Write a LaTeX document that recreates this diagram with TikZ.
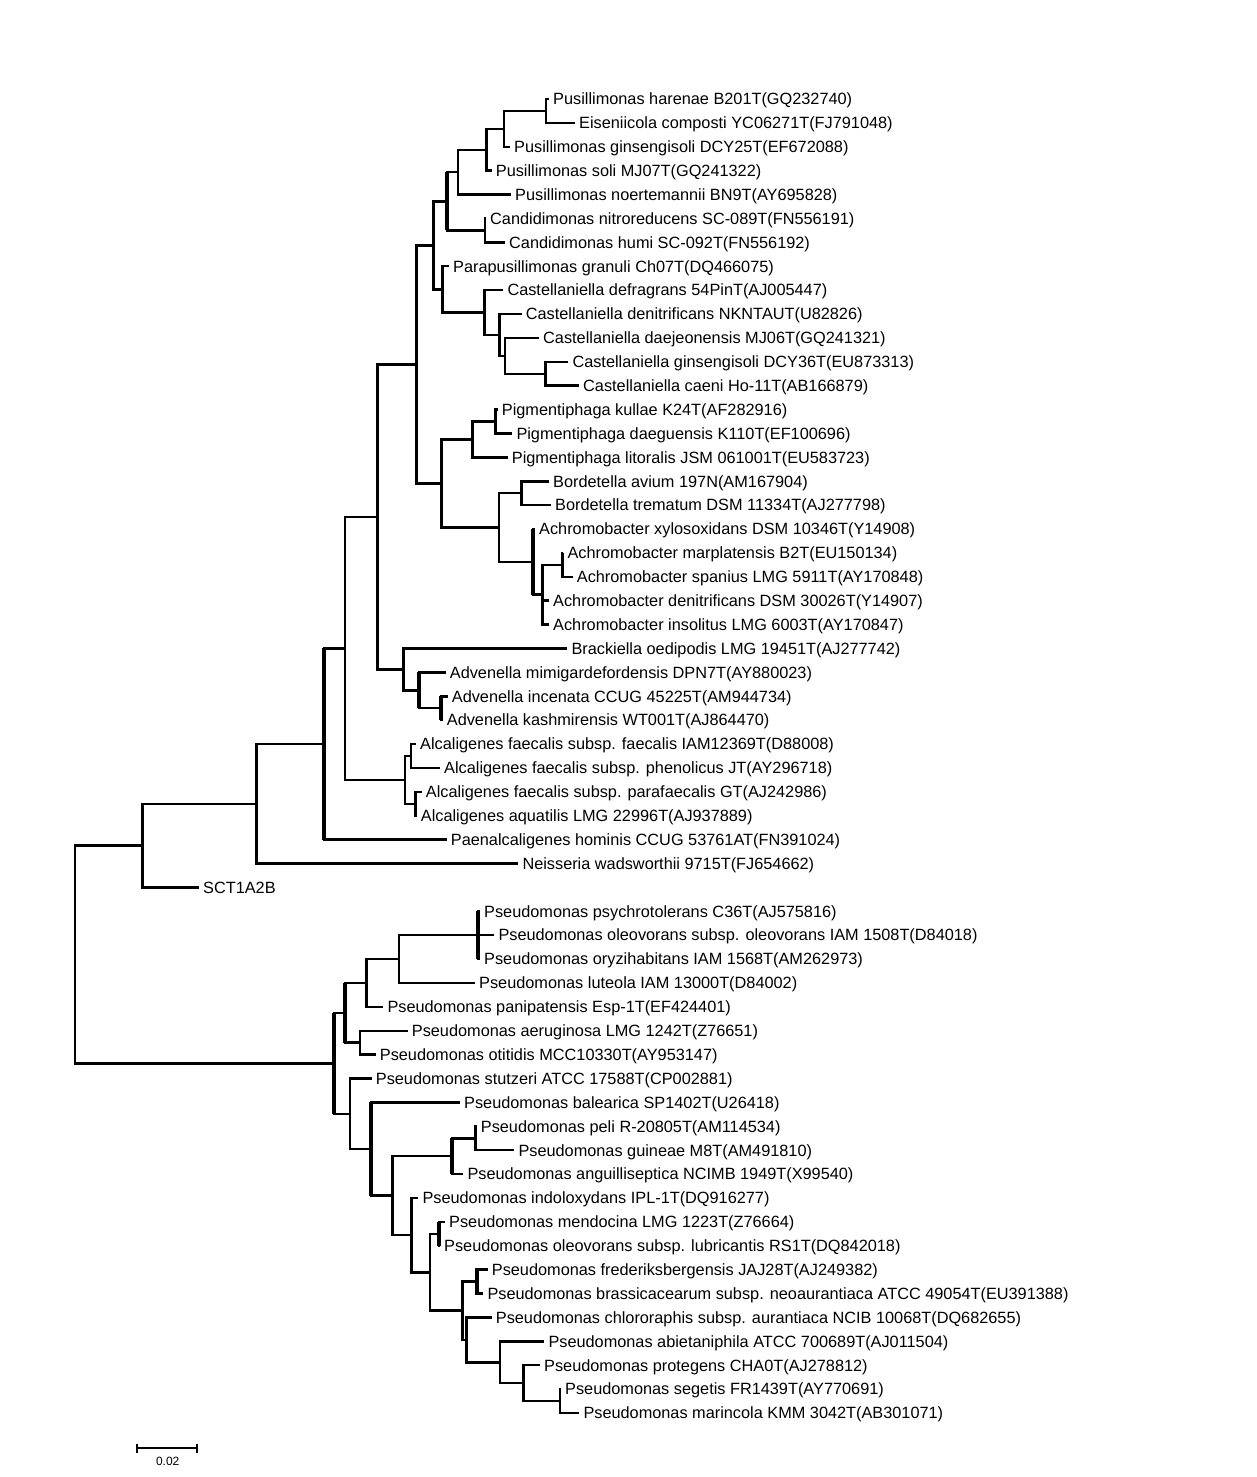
\documentclass[tikz,border=0pt]{standalone}
\usepackage{fontspec}
\setmainfont{Liberation Sans}
\newcommand\leaffont{\fontsize{16.3}{18}\selectfont}
\newcommand\barfont{\fontsize{12}{14}\selectfont}
\begin{document}
\begin{tikzpicture}[x=1pt,y=-1pt,
  br/.style={draw=black,line width=2.5pt},
  vthick/.style={draw=black,line width=4pt},
  leaf/.style={anchor=west,inner xsep=4pt,inner ysep=0pt,text height=11.6pt,text depth=0pt,font=\leaffont}]
\useasboundingbox (0,0) rectangle (1256,1477);
% ---------- leaves ----------
\node[leaf] (l1) at (549,99) {Pusillimonas harenae B201T(GQ232740)};
\node[leaf] (l2) at (575,122.89) {Eiseniicola composti YC06271T(FJ791048)};
\node[leaf] (l3) at (510,146.78) {Pusillimonas ginsengisoli DCY25T(EF672088)};
\node[leaf] (l4) at (491.7,170.67) {Pusillimonas soli MJ07T(GQ241322)};
\node[leaf] (l5) at (511,194.56) {Pusillimonas noertemannii BN9T(AY695828)};
\node[leaf] (l6) at (486,218.45) {Candidimonas nitroreducens SC-089T(FN556191)};
\node[leaf] (l7) at (505,242.35) {Candidimonas humi SC-092T(FN556192)};
\node[leaf] (l8) at (449,266.24) {Parapusillimonas granuli Ch07T(DQ466075)};
\node[leaf] (l9) at (503.3,290.13) {Castellaniella defragrans 54PinT(AJ005447)};
\node[leaf] (l10) at (521.7,314.02) {Castellaniella denitrificans NKNTAUT(U82826)};
\node[leaf] (l11) at (539,337.91) {Castellaniella daejeonensis MJ06T(GQ241321)};
\node[leaf] (l12) at (568.3,361.80) {Castellaniella ginsengisoli DCY36T(EU873313)};
\node[leaf] (l13) at (579,385.69) {Castellaniella caeni Ho-11T(AB166879)};
\node[leaf] (l14) at (497.7,409.58) {Pigmentiphaga kullae K24T(AF282916)};
\node[leaf] (l15) at (512.3,433.47) {Pigmentiphaga daeguensis K110T(EF100696)};
\node[leaf] (l16) at (507.7,457.36) {Pigmentiphaga litoralis JSM 061001T(EU583723)};
\node[leaf] (l17) at (549,481.25) {Bordetella avium 197N(AM167904)};
\node[leaf] (l18) at (551,505.15) {Bordetella trematum DSM 11334T(AJ277798)};
\node[leaf] (l19) at (535,529.04) {Achromobacter xylosoxidans DSM 10346T(Y14908)};
\node[leaf] (l20) at (563.3,552.93) {Achromobacter marplatensis B2T(EU150134)};
\node[leaf] (l21) at (572.7,576.82) {Achromobacter spanius LMG 5911T(AY170848)};
\node[leaf] (l22) at (549,600.71) {Achromobacter denitrificans DSM 30026T(Y14907)};
\node[leaf] (l23) at (549,624.60) {Achromobacter insolitus LMG 6003T(AY170847)};
\node[leaf] (l24) at (567.3,648.49) {Brackiella oedipodis LMG 19451T(AJ277742)};
\node[leaf] (l25) at (445.7,672.38) {Advenella mimigardefordensis DPN7T(AY880023)};
\node[leaf] (l26) at (447.7,696.27) {Advenella incenata CCUG 45225T(AM944734)};
\node[leaf] (l27) at (442.7,720.16) {Advenella kashmirensis WT001T(AJ864470)};
\node[leaf] (l28) at (416,744.05) {Alcaligenes faecalis subsp. faecalis IAM12369T(D88008)};
\node[leaf] (l29) at (440,767.95) {Alcaligenes faecalis subsp. phenolicus JT(AY296718)};
\node[leaf] (l30) at (421.7,791.84) {Alcaligenes faecalis subsp. parafaecalis GT(AJ242986)};
\node[leaf] (l31) at (416.7,815.73) {Alcaligenes aquatilis LMG 22996T(AJ937889)};
\node[leaf] (l32) at (446.7,839.62) {Paenalcaligenes hominis CCUG 53761AT(FN391024)};
\node[leaf] (l33) at (518.3,863.51) {Neisseria wadsworthii 9715T(FJ654662)};
\node[leaf] (l34) at (199,887.40) {SCT1A2B};
\node[leaf] (l35) at (480,911.29) {Pseudomonas psychrotolerans C36T(AJ575816)};
\node[leaf] (l36) at (494.3,935.18) {Pseudomonas oleovorans subsp. oleovorans IAM 1508T(D84018)};
\node[leaf] (l37) at (480,959.07) {Pseudomonas oryzihabitans IAM 1568T(AM262973)};
\node[leaf] (l38) at (475,982.96) {Pseudomonas luteola IAM 13000T(D84002)};
\node[leaf] (l39) at (383.3,1006.85) {Pseudomonas panipatensis Esp-1T(EF424401)};
\node[leaf] (l40) at (407.7,1030.75) {Pseudomonas aeruginosa LMG 1242T(Z76651)};
\node[leaf] (l41) at (375.7,1054.64) {Pseudomonas otitidis MCC10330T(AY953147)};
\node[leaf] (l42) at (371.7,1078.53) {Pseudomonas stutzeri ATCC 17588T(CP002881)};
\node[leaf] (l43) at (460,1102.42) {Pseudomonas balearica SP1402T(U26418)};
\node[leaf] (l44) at (476.7,1126.31) {Pseudomonas peli R-20805T(AM114534)};
\node[leaf] (l45) at (514.3,1150.20) {Pseudomonas guineae M8T(AM491810)};
\node[leaf] (l46) at (463.3,1174.09) {Pseudomonas anguilliseptica NCIMB 1949T(X99540)};
\node[leaf] (l47) at (418.3,1197.98) {Pseudomonas indoloxydans IPL-1T(DQ916277)};
\node[leaf] (l48) at (445,1221.87) {Pseudomonas mendocina LMG 1223T(Z76664)};
\node[leaf] (l49) at (440,1245.76) {Pseudomonas oleovorans subsp. lubricantis RS1T(DQ842018)};
\node[leaf] (l50) at (487.7,1269.65) {Pseudomonas frederiksbergensis JAJ28T(AJ249382)};
\node[leaf] (l51) at (483.3,1293.55) {Pseudomonas brassicacearum subsp. neoaurantiaca ATCC 49054T(EU391388)};
\node[leaf] (l52) at (491.7,1317.44) {Pseudomonas chlororaphis subsp. aurantiaca NCIB 10068T(DQ682655)};
\node[leaf] (l53) at (544.3,1341.33) {Pseudomonas abietaniphila ATCC 700689T(AJ011504)};
\node[leaf] (l54) at (540,1365.22) {Pseudomonas protegens CHA0T(AJ278812)};
\node[leaf] (l55) at (561,1389.11) {Pseudomonas segetis FR1439T(AY770691)};
\node[leaf] (l56) at (579.3,1413.00) {Pseudomonas marincola KMM 3042T(AB301071)};
% ---------- internal nodes ----------
\coordinate (A) at (546,110.95);
\coordinate (B) at (504,128.86);
\coordinate (C) at (486.5,149.77);
\coordinate (D) at (458,172.16);
\coordinate (E) at (485,230.40);
\coordinate (F) at (447,201.28);
\coordinate (L) at (545.7,373.75);
\coordinate (K) at (505,355.83);
\coordinate (J) at (499.3,334.92);
\coordinate (I) at (484.3,312.53);
\coordinate (H) at (442.7,289.38);
\coordinate (G) at (433.3,245.33);
\coordinate (P1) at (495.7,421.53);
\coordinate (P2) at (472.7,439.44);
\coordinate (Bo) at (521.7,493.20);
\coordinate (Ac3) at (562.3,564.88);
\coordinate (Ac2) at (542.3,594.74);
\coordinate (Ac) at (533.3,561.89);
\coordinate (BA) at (499,527.55);
\coordinate (PB) at (441.7,483.49);
\coordinate (Q) at (416.7,364.41);
\coordinate (Adv2) at (441,708.22);
\coordinate (Adv1) at (419,690.30);
\coordinate (Br) at (403.3,669.40);
\coordinate (R) at (377.7,516.90);
\coordinate (Al1) at (411,756.00);
\coordinate (Al2) at (415.7,803.78);
\coordinate (Al) at (405,779.89);
\coordinate (S) at (345,648.40);
\coordinate (T) at (324.3,744.01);
\coordinate (U) at (256.7,803.76);
\coordinate (V) at (142.7,845.58);
\coordinate (Ps1) at (478.3,935.18);
\coordinate (Ps2) at (399,959.07);
\coordinate (Ps3) at (366.7,982.96);
\coordinate (Ps4) at (360,1042.70);
\coordinate (Ps5) at (345,1012.83);
\coordinate (O4) at (560,1401.06);
\coordinate (O3) at (523.3,1383.14);
\coordinate (O2) at (500,1362.24);
\coordinate (O) at (466.7,1339.84);
\coordinate (Fb) at (476.7,1281.60);
\coordinate (N) at (462.7,1310.72);
\coordinate (Men) at (439.3,1233.82);
\coordinate (M) at (430,1272.27);
\coordinate (ZZ) at (411.7,1235.13);
\coordinate (Pel1) at (475.7,1138.26);
\coordinate (Pel) at (452.3,1156.18);
\coordinate (Z) at (392.7,1195.66);
\coordinate (Y) at (371,1149.04);
\coordinate (X) at (350,1113.79);
\coordinate (W) at (334,1063.31);
\coordinate (Root) at (75,954.45);
% ---------- branches ----------
\draw[br] (l1.west) -| (A) |- (l2.west);
\draw[br] (A) -| (B) |- (l3.west);
\draw[br] (B) -| (C) |- (l4.west);
\draw[br] (C) -| (D) |- (l5.west);
\draw[br] (l6.west) -| (E) |- (l7.west);
\draw[br] (D) -| (F) |- (E);
\draw[br] (l12.west) -| (L) |- (l13.west);
\draw[br] (l11.west) -| (K) |- (L);
\draw[br] (l10.west) -| (J) |- (K);
\draw[br] (l9.west) -| (I) |- (J);
\draw[br] (l8.west) -| (H) |- (I);
\draw[br] (F) -| (G) |- (H);
\draw[br] (l14.west) -| (P1) |- (l15.west);
\draw[br] (P1) -| (P2) |- (l16.west);
\draw[br] (l17.west) -| (Bo) |- (l18.west);
\draw[br] (l20.west) -| (Ac3) |- (l21.west);
\draw[br] (Ac3) -| (Ac2) |- (l23.west);
\draw[br] (Ac2) |- (l22.west);
\draw[br] (l19.west) -| (Ac) |- (Ac2);
\draw[br] (Bo) -| (BA) |- (Ac);
\draw[br] (P2) -| (PB) |- (BA);
\draw[br] (G) -| (Q) |- (PB);
\draw[br] (l26.west) -| (Adv2) |- (l27.west);
\draw[br] (l25.west) -| (Adv1) |- (Adv2);
\draw[br] (l24.west) -| (Br) |- (Adv1);
\draw[br] (Q) -| (R) |- (Br);
\draw[br] (l28.west) -| (Al1) |- (l29.west);
\draw[br] (l30.west) -| (Al2) |- (l31.west);
\draw[br] (Al1) -| (Al) |- (Al2);
\draw[br] (R) -| (S) |- (Al);
\draw[br] (S) -| (T) |- (l32.west);
\draw[br] (T) -| (U) |- (l33.west);
\draw[br] (U) -| (V) |- (l34.west);
\draw[br] (l35.west) -| (Ps1) |- (l37.west);
\draw[br] (Ps1) -- (l36.west);
\draw[br] (Ps1) -| (Ps2) |- (l38.west);
\draw[br] (Ps2) -| (Ps3) |- (l39.west);
\draw[br] (l40.west) -| (Ps4) |- (l41.west);
\draw[br] (Ps3) -| (Ps5) |- (Ps4);
\draw[br] (l55.west) -| (O4) |- (l56.west);
\draw[br] (l54.west) -| (O3) |- (O4);
\draw[br] (l53.west) -| (O2) |- (O3);
\draw[br] (l52.west) -| (O) |- (O2);
\draw[br] (l50.west) -| (Fb) |- (l51.west);
\draw[br] (Fb) -| (N) |- (O);
\draw[br] (l48.west) -| (Men) |- (l49.west);
\draw[br] (Men) -| (M) |- (N);
\draw[br] (l47.west) -| (ZZ) |- (M);
\draw[br] (l44.west) -| (Pel1) |- (l45.west);
\draw[br] (Pel1) -| (Pel) |- (l46.west);
\draw[br] (Pel) -| (Z) |- (ZZ);
\draw[br] (l43.west) -| (Y) |- (Z);
\draw[br] (l42.west) -| (X) |- (Y);
\draw[br] (Ps5) -| (W) |- (X);
\draw[br] (V) -| (Root) |- (W);
% ---------- heavier verticals ----------
\draw[vthick] (F |- D) -- (F |- E);
\draw[vthick] (Ac |- l19.west) -- (Ac |- Ac2);
\draw[vthick] (Adv1 |- l25.west) -- (Adv1 |- Adv2);
\draw[vthick] (Adv2 |- l26.west) -- (Adv2 |- l27.west);
\draw[vthick] (T |- S) -- (T |- l32.west);
\draw[vthick] (Ps1 |- l35.west) -- (Ps1 |- l37.west);
\draw[vthick] (Ps5 |- Ps3) -- (Ps5 |- Ps4);
\draw[vthick] (W |- Ps5) -- (W |- X);
\draw[vthick] (Y |- l43.west) -- (Y |- Z);
\draw[vthick] (Pel |- Pel1) -- (Pel |- l46.west);
\draw[vthick] (Men |- l48.west) -- (Men |- l49.west);
\draw[vthick] (Fb |- l50.west) -- (Fb |- l51.west);
% ---------- scale bar ----------
\coordinate (sbL) at (137.3,1448.3);
\coordinate (sbR) at (197.3,1448.3);
\draw[br,line width=2.2pt] (sbL) -- (sbR);
\draw[br,line width=2.2pt] ([yshift=4.8pt]sbL) -- ([yshift=-4.6pt]sbL);
\draw[br,line width=2.2pt] ([yshift=4.8pt]sbR) -- ([yshift=-4.6pt]sbR);
\node[font=\barfont,inner sep=0pt] (sbtext) at (167.7,1461) {0.02};
\end{tikzpicture}
\end{document}
